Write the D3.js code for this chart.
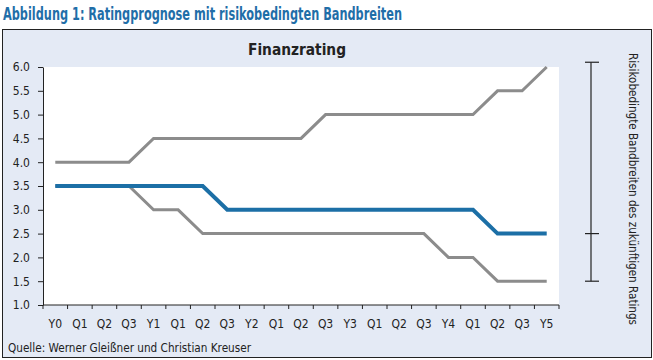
<!DOCTYPE html>
<html>
<head>
<meta charset="utf-8">
<script src="https://cdn.jsdelivr.net/npm/d3@7"></script>
<style>
  body { margin: 0; background: #fff; }
  svg text { font-family: "Liberation Sans Narrow", "DejaVu Sans Condensed", "Liberation Sans", sans-serif; }
</style>
</head>
<body>
<svg id="chart"></svg>
<script>
var periods = ["Y0","Q1","Q2","Q3","Y1","Q1","Q2","Q3","Y2","Q1","Q2","Q3",
               "Y3","Q1","Q2","Q3","Y4","Q1","Q2","Q3","Y5"];
var upper = [4.0,4.0,4.0,4.0,4.5,4.5,4.5,4.5,4.5,4.5,4.5,5.0,5.0,5.0,5.0,5.0,5.0,5.0,5.5,5.5,6.0];
var rating = [3.5,3.5,3.5,3.5,3.5,3.5,3.5,3.0,3.0,3.0,3.0,3.0,3.0,3.0,3.0,3.0,3.0,3.0,2.5,2.5,2.5];
var lower = [3.5,3.5,3.5,3.5,3.0,3.0,2.5,2.5,2.5,2.5,2.5,2.5,2.5,2.5,2.5,2.5,2.0,2.0,1.5,1.5,1.5];
var yTicks = [1.0,1.5,2.0,2.5,3.0,3.5,4.0,4.5,5.0,5.5,6.0];
var bracketValues = [6.1, 2.5, 1.5];

var width = 653, height = 360;
var margin = {top: 67, right: 94, bottom: 55, left: 43};

var svg = d3.select("#chart").attr("width", width).attr("height", height);

svg.append("text")
    .attr("x", 3).attr("y", 20)
    .attr("fill", "#1f6ea8")
    .attr("textLength", 399).attr("lengthAdjust", "spacingAndGlyphs")
    .style("font-size", "17px").style("font-weight", "bold")
    .text("Abbildung 1: Ratingprognose mit risikobedingten Bandbreiten");

svg.append("rect")
    .attr("x", 2.5).attr("y", 29.5)
    .attr("width", 649).attr("height", 328)
    .attr("fill", "#e4eaf5").attr("stroke", "#222").attr("stroke-width", 1);

var x = d3.scaleBand().domain(d3.range(periods.length))
    .range([margin.left, width - margin.right]);
var y = d3.scaleLinear().domain([1, 6])
    .range([height - margin.bottom, margin.top]);

svg.append("rect")
    .attr("x", x.range()[0]).attr("y", y(6))
    .attr("width", x.range()[1] - x.range()[0]).attr("height", y(1) - y(6))
    .attr("fill", "#fff");

svg.append("text")
    .attr("x", 248).attr("y", 55)
    .attr("fill", "#222")
    .attr("textLength", 98).attr("lengthAdjust", "spacingAndGlyphs")
    .style("font-size", "16px").style("font-weight", "bold")
    .text("Finanzrating");

// y axis
var yAxis = svg.append("g")
    .attr("transform", "translate(" + margin.left + ",0)")
    .call(d3.axisLeft(y).tickValues(yTicks).tickFormat(d3.format(".1f")).tickSize(5).tickSizeOuter(0).tickPadding(8));
yAxis.selectAll("text").style("font-size", "12px").attr("fill", "#222");
yAxis.selectAll("line, path").attr("stroke", "#222");

// x axis: ticks between bands
var xAxis = svg.append("g")
    .attr("transform", "translate(0," + y(1) + ")");
xAxis.append("line")
    .attr("x1", x.range()[0]).attr("x2", x.range()[1])
    .attr("stroke", "#222");
xAxis.selectAll(".tick")
    .data(d3.range(periods.length + 1))
    .join("line")
    .attr("x1", function(i) { return x.range()[0] + i * x.step(); })
    .attr("x2", function(i) { return x.range()[0] + i * x.step(); })
    .attr("y1", 0).attr("y2", 4)
    .attr("stroke", "#222");
xAxis.selectAll(".lbl")
    .data(periods)
    .join("text")
    .attr("x", function(d, i) { return x(i) + x.bandwidth() / 2; })
    .attr("y", 23)
    .attr("text-anchor", "middle")
    .attr("fill", "#222")
    .style("font-size", "12px")
    .text(function(d) { return d; });

var line = d3.line()
    .x(function(d, i) { return x(i) + x.bandwidth() / 2; })
    .y(function(d) { return y(d); });

[[upper, "#8c8c8c", 3], [lower, "#8c8c8c", 3], [rating, "#1c6fa6", 4]].forEach(function(s) {
    svg.append("path")
        .datum(s[0])
        .attr("d", line)
        .attr("fill", "none")
        .attr("stroke", s[1])
        .attr("stroke-width", s[2]);
});

// bracket on the right
var bx = 591;
var br = svg.append("g").attr("stroke", "#222").attr("stroke-width", 1.2);
br.append("line")
    .attr("x1", bx).attr("x2", bx)
    .attr("y1", y(bracketValues[0])).attr("y2", y(bracketValues[2]));
br.selectAll(".cap")
    .data(bracketValues)
    .join("line")
    .attr("x1", bx - 6).attr("x2", bx + 8)
    .attr("y1", function(d) { return y(d); })
    .attr("y2", function(d) { return y(d); });

svg.append("text")
    .attr("transform", "translate(629,53) rotate(90)")
    .attr("fill", "#222")
    .attr("textLength", 272).attr("lengthAdjust", "spacingAndGlyphs")
    .style("font-size", "13px")
    .text("Risikobedingte Bandbreiten des zukünftigen Ratings");

svg.append("text")
    .attr("x", 8).attr("y", 352)
    .attr("fill", "#222")
    .attr("textLength", 243).attr("lengthAdjust", "spacingAndGlyphs")
    .style("font-size", "13px")
    .text("Quelle: Werner Gleißner und Christian Kreuser");
</script>
</body>
</html>
